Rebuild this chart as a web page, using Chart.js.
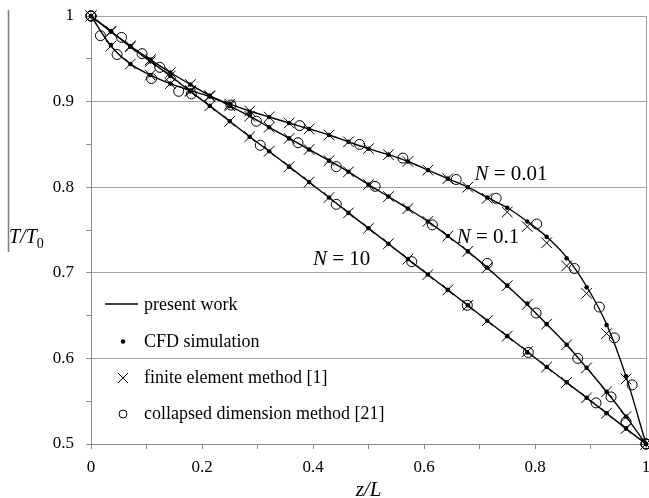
<!DOCTYPE html>
<html>
<head>
<meta charset="utf-8">
<script src="https://cdn.jsdelivr.net/npm/chart.js@4.4.1/dist/chart.umd.min.js"></script>
<style>
  html, body { margin: 0; padding: 0; background: #fff; }
  canvas { display: block; }
</style>
</head>
<body>
<canvas id="c" width="649" height="498"></canvas>
<script>
// Axial positions z/L shared by the model curves, CFD and FE results
const zGrid = [0, 0.036, 0.071, 0.107, 0.143, 0.179, 0.214, 0.25, 0.286, 0.321,
  0.357, 0.393, 0.429, 0.464, 0.5, 0.536, 0.571, 0.607, 0.643, 0.679,
  0.714, 0.75, 0.786, 0.821, 0.857, 0.893, 0.929, 0.964, 1];

// Present work (model), T/T0
const presentN001 = [1, 0.965, 0.944, 0.931, 0.921, 0.913, 0.906, 0.897, 0.889, 0.882,
  0.875, 0.868, 0.861, 0.853, 0.845, 0.838, 0.830, 0.820, 0.810, 0.800,
  0.788, 0.776, 0.760, 0.742, 0.718, 0.684, 0.640, 0.579, 0.5];
const presentN01 = [1, 0.982, 0.965, 0.949, 0.934, 0.920, 0.907, 0.895, 0.883, 0.870,
  0.857, 0.844, 0.831, 0.818, 0.803, 0.789, 0.775, 0.760, 0.743, 0.725,
  0.706, 0.685, 0.663, 0.640, 0.616, 0.589, 0.561, 0.532, 0.5];
const presentN10 = [1, 0.982, 0.964, 0.947, 0.930, 0.912, 0.895, 0.877, 0.859, 0.842,
  0.824, 0.806, 0.788, 0.770, 0.752, 0.734, 0.716, 0.698, 0.680, 0.662,
  0.644, 0.626, 0.608, 0.590, 0.572, 0.554, 0.536, 0.518, 0.5];

// CFD simulation, T/T0
const cfdN001 = [1, 0.966, 0.944, 0.931, 0.921, 0.913, 0.906, 0.897, 0.888, 0.882,
  0.875, 0.868, 0.861, 0.853, 0.845, 0.838, 0.830, 0.820, 0.810, 0.800,
  0.788, 0.776, 0.760, 0.742, 0.717, 0.683, 0.639, 0.579, 0.5];
const cfdN01 = [1, 0.982, 0.965, 0.949, 0.934, 0.920, 0.907, 0.895, 0.884, 0.870,
  0.857, 0.844, 0.831, 0.818, 0.803, 0.789, 0.775, 0.760, 0.743, 0.725,
  0.706, 0.685, 0.664, 0.640, 0.616, 0.589, 0.561, 0.532, 0.5];
const cfdN10 = [1, 0.982, 0.964, 0.947, 0.930, 0.912, 0.895, 0.877, 0.859, 0.842,
  0.824, 0.806, 0.788, 0.770, 0.752, 0.734, 0.716, 0.698, 0.680, 0.662,
  0.644, 0.626, 0.607, 0.590, 0.572, 0.554, 0.536, 0.518, 0.5];

// Finite element method [1], T/T0
const femN001 = [1, 0.965, 0.944, 0.931, 0.921, 0.913, 0.906, 0.897, 0.889, 0.882,
  0.875, 0.868, 0.861, 0.853, 0.845, 0.838, 0.830, 0.820, 0.810, 0.800,
  0.787, 0.771, 0.754, 0.735, 0.708, 0.676, 0.629, 0.576, 0.5];
const femN01 = [1, 0.982, 0.965, 0.949, 0.934, 0.920, 0.907, 0.895, 0.883, 0.870,
  0.857, 0.844, 0.831, 0.818, 0.803, 0.789, 0.775, 0.760, 0.743, 0.725,
  0.706, 0.685, 0.663, 0.640, 0.616, 0.589, 0.561, 0.532, 0.5];
const femN10 = [1, 0.982, 0.964, 0.947, 0.930, 0.912, 0.895, 0.877, 0.859, 0.842,
  0.824, 0.806, 0.788, 0.770, 0.752, 0.734, 0.716, 0.698, 0.680, 0.662,
  0.644, 0.626, 0.608, 0.590, 0.572, 0.554, 0.536, 0.518, 0.5];

// Collapsed dimension method [21]: own z/L positions and T/T0
const cdmZN001 = [0, 0.017, 0.047, 0.109, 0.158, 0.252, 0.376, 0.484, 0.562, 0.658,
  0.730, 0.803, 0.871, 0.916, 0.943, 0.975, 1];
const cdmTN001 = [1, 0.977, 0.955, 0.927, 0.912, 0.896, 0.872, 0.850, 0.834, 0.809,
  0.787, 0.757, 0.705, 0.660, 0.624, 0.569, 0.5];
const cdmZN01 = [0, 0.055, 0.092, 0.124, 0.298, 0.373, 0.442, 0.512, 0.615, 0.714,
  0.802, 0.877, 0.937, 0.964, 1];
const cdmTN01 = [1, 0.975, 0.956, 0.940, 0.877, 0.852, 0.824, 0.801, 0.756, 0.711,
  0.653, 0.600, 0.555, 0.526, 0.5];
const cdmZN10 = [0, 0.181, 0.305, 0.442, 0.578, 0.678, 0.788, 0.910, 1];
const cdmTN10 = [1, 0.909, 0.849, 0.780, 0.713, 0.662, 0.607, 0.548, 0.5];

// Text
const curveParams = ['0.01', '0.1', '10'];
const legendLabels = ['present work', 'CFD simulation', 'finite element method [1]',
  'collapsed dimension method [21]'];
const xTickLabels = ['0', '0.2', '0.4', '0.6', '0.8', '1'];
const yTickLabels = ['0.5', '0.6', '0.7', '0.8', '0.9', '1'];

// Where each "N = ..." annotation sits, in data units (left edge, baseline)
const curveLabelAnchors = [[0.691, 0.8086], [0.659, 0.735], [0.400, 0.709]];

const SERIF = '"Liberation Serif", "Times New Roman", serif';
const GRID = '#a3a3a3';
const AXIS = '#8c8c8c';

function pts(zs, ts) { return zs.map((z, i) => ({ x: z, y: ts[i] })); }

function modelSet(values) {
  return { data: pts(zGrid, values), showLine: true, borderColor: '#000', borderWidth: 1.4,
    pointRadius: 0, fill: false, cubicInterpolationMode: 'monotone', order: 4 };
}
function cfdSet(values) {
  return { data: pts(zGrid, values), showLine: false, pointStyle: 'circle', pointRadius: 2.3,
    pointBackgroundColor: '#000', pointBorderColor: '#000', pointBorderWidth: 0, order: 1 };
}
function femSet(values) {
  return { data: pts(zGrid, values), showLine: false, pointStyle: 'crossRot', pointRadius: 7.5,
    pointBorderColor: '#000', pointBackgroundColor: '#000', pointBorderWidth: 1, order: 2 };
}
function cdmSet(zs, ts) {
  return { data: pts(zs, ts), showLine: false, pointStyle: 'circle', pointRadius: 5,
    pointBackgroundColor: 'rgba(0,0,0,0)', pointBorderColor: '#000', pointBorderWidth: 1, order: 3 };
}

const datasets = [
  modelSet(presentN001), modelSet(presentN01), modelSet(presentN10),
  cfdSet(cfdN001), cfdSet(cfdN01), cfdSet(cfdN10),
  femSet(femN001), femSet(femN01), femSet(femN10),
  cdmSet(cdmZN001, cdmTN001), cdmSet(cdmZN01, cdmTN01), cdmSet(cdmZN10, cdmTN10)
];

// Axis titles, curve annotations, inset legend and the framing rule on the left
const annotations = {
  id: 'annotations',
  afterDraw(chart) {
    const ctx = chart.ctx;
    const xs = chart.scales.x, ys = chart.scales.y;
    const area = chart.chartArea;
    ctx.save();
    ctx.fillStyle = '#000';
    ctx.textBaseline = 'alphabetic';
    ctx.textAlign = 'left';

    // N = ... labels
    curveParams.forEach((p, i) => {
      const x = xs.getPixelForValue(curveLabelAnchors[i][0]);
      const y = ys.getPixelForValue(curveLabelAnchors[i][1]);
      ctx.font = 'italic 21px ' + SERIF;
      ctx.fillText('N', x, y);
      const w = ctx.measureText('N').width;
      ctx.font = '21px ' + SERIF;
      ctx.fillText(' = ' + p, x + w, y);
    });

    // x title
    ctx.font = 'italic 21px ' + SERIF;
    ctx.textAlign = 'center';
    ctx.fillText('z/L', (area.left + area.right) / 2, 496);

    // y title T/T0
    ctx.textAlign = 'left';
    ctx.font = 'italic 20px ' + SERIF;
    ctx.fillText('T/T', 9, 243);
    const tw = ctx.measureText('T/T').width;
    ctx.font = '14px ' + SERIF;
    ctx.fillText('0', 9 + tw, 248);

    // rule at the far left
    ctx.strokeStyle = '#808080';
    ctx.lineWidth = 1.6;
    ctx.beginPath();
    ctx.moveTo(8.5, 10);
    ctx.lineTo(8.5, 252);
    ctx.stroke();

    // legend
    const lx = area.left + 32, tx = area.left + 53;
    const rows = [area.top + 289, area.top + 325.5, area.top + 362, area.top + 398];
    ctx.font = '18px ' + SERIF;
    legendLabels.forEach((t, i) => ctx.fillText(t, tx, rows[i] + 5));
    ctx.strokeStyle = '#000';
    ctx.lineWidth = 1.4;
    ctx.beginPath();
    ctx.moveTo(area.left + 14, rows[0] - 1);
    ctx.lineTo(area.left + 47, rows[0] - 1);
    ctx.stroke();
    ctx.beginPath();
    ctx.arc(lx, rows[1], 2.3, 0, Math.PI * 2);
    ctx.fill();
    ctx.lineWidth = 1;
    ctx.beginPath();
    ctx.moveTo(lx - 5, rows[2] - 5); ctx.lineTo(lx + 5, rows[2] + 5);
    ctx.moveTo(lx + 5, rows[2] - 5); ctx.lineTo(lx - 5, rows[2] + 5);
    ctx.stroke();
    ctx.beginPath();
    ctx.arc(lx, rows[3], 4, 0, Math.PI * 2);
    ctx.stroke();
    ctx.restore();
  }
};

new Chart(document.getElementById('c'), {
  type: 'scatter',
  data: { datasets },
  plugins: [annotations],
  options: {
    responsive: false,
    devicePixelRatio: 1,
    animation: false,
    clip: false,
    layout: { autoPadding: false, padding: { top: 16, right: 3, bottom: 0, left: 0 } },
    plugins: { legend: { display: false }, tooltip: { enabled: false } },
    scales: {
      x: {
        type: 'linear', min: 0, max: 1,
        afterFit(s) { s.height = 54; s.paddingLeft = 0; s.paddingRight = 0; },
        border: { display: true, color: AXIS, width: 1 },
        grid: {
          drawOnChartArea: true,
          color: (c) => (c.tick && Math.round(c.tick.value * 10) === 10 ? GRID : 'rgba(0,0,0,0)'),
          tickColor: AXIS, tickLength: 5, lineWidth: 1
        },
        ticks: {
          stepSize: 0.1, autoSkip: false, maxRotation: 0, padding: 8, color: '#000',
          font: { family: SERIF, size: 17 },
          callback: (v) => {
            const k = Math.round(v * 10);
            return k % 2 ? '' : xTickLabels[k / 2];
          }
        }
      },
      y: {
        type: 'linear', min: 0.5, max: 1,
        afterFit(s) { s.width = 91; s.paddingTop = 0; s.paddingBottom = 0; },
        border: { display: true, color: AXIS, width: 1 },
        grid: {
          color: (c) => (c.tick && Math.round(c.tick.value * 100) % 10 === 0 ? GRID : 'rgba(0,0,0,0)'),
          tickColor: AXIS, tickLength: 5, lineWidth: 1
        },
        ticks: {
          stepSize: 0.05, autoSkip: false, padding: 12, color: '#000',
          font: { family: SERIF, size: 17 },
          callback: (v) => {
            const k = Math.round(v * 100);
            return k % 10 ? '' : yTickLabels[(k - 50) / 10];
          }
        }
      }
    }
  }
});
</script>
</body>
</html>
